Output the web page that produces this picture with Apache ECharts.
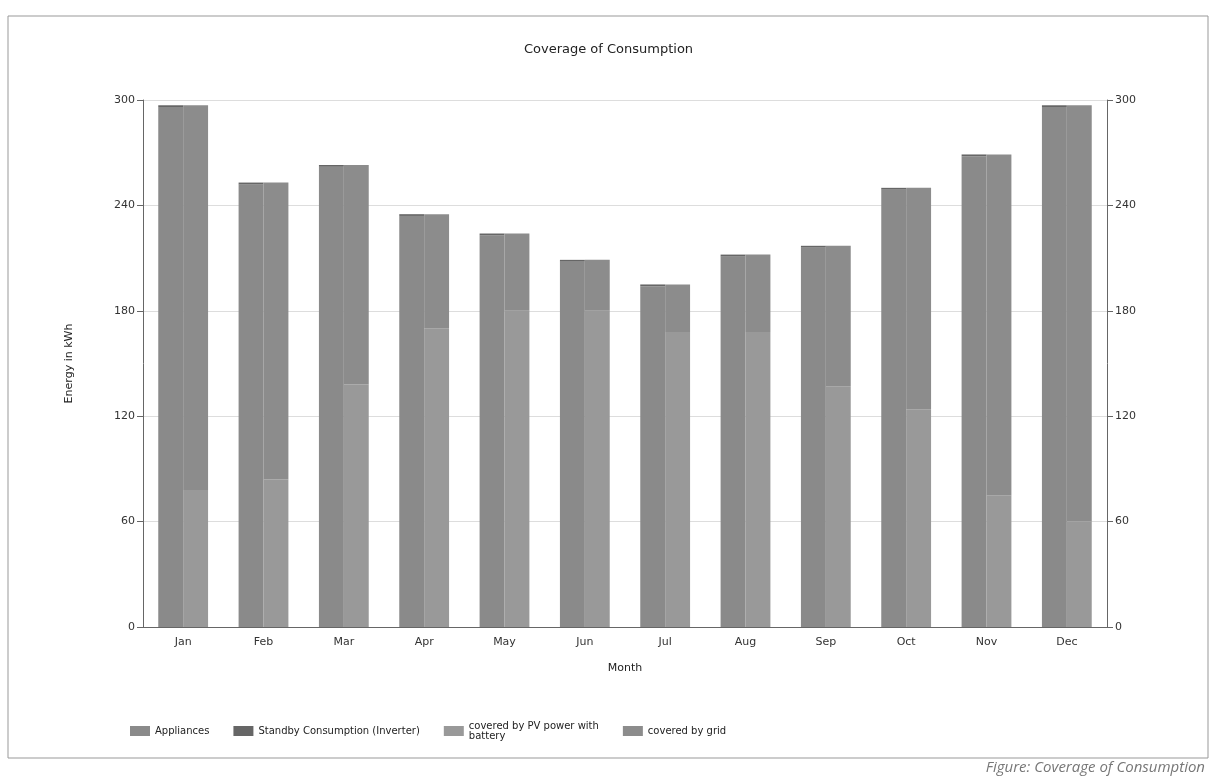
<!DOCTYPE html>
<html><head><meta charset="utf-8">
<script src="https://cdn.jsdelivr.net/npm/echarts@6/dist/echarts.min.js"></script>
<style>html,body{margin:0;padding:0;background:#fff}#c{width:1217px;height:777px}</style>
</head><body><div id="c"></div>
<script>
const months = ['Jan','Feb','Mar','Apr','May','Jun','Jul','Aug','Sep','Oct','Nov','Dec'];
const appliances = [296, 252, 262, 234, 223, 208, 194, 211, 216, 249, 268, 296];
const standby = [1, 1, 1, 1, 1, 1, 1, 1, 1, 1, 1, 1];
const pvBattery = [78, 84, 138, 170, 180, 180, 168, 168, 137, 124, 75, 60];
const grid = [219, 169, 125, 65, 44, 29, 27, 44, 80, 126, 194, 237];
const yTicks = [0, 60, 120, 180, 240, 300];

const chart = echarts.init(document.getElementById('c'));
const axisCommon = {
  type: 'value', min: 0, max: 300, interval: 60,
  axisLine: {show: true, lineStyle: {color: '#666'}},
  axisTick: {show: true, length: 6, lineStyle: {color: '#666'}},
  axisLabel: {color: '#333', fontFamily: 'DejaVu Sans', fontSize: 11}
};
chart.setOption({
  animation: false,
  title: {text: 'Coverage of Consumption', left: 'center', top: 38,
    textStyle: {fontFamily: 'DejaVu Sans', fontSize: 13, fontWeight: 'normal', color: '#222'}},
  grid: {left: 143, right: 110, top: 100, bottom: 150},
  legend: {left: 125, top: 716, icon: 'rect', itemWidth: 20, itemHeight: 10, itemGap: 24,
    textStyle: {fontFamily: 'DejaVu Sans', fontSize: 10, color: '#222'},
    data: ['Appliances', 'Standby Consumption (Inverter)', 'covered by PV power with\nbattery', 'covered by grid']},
  xAxis: {type: 'category', data: months, name: 'Month', nameLocation: 'middle', nameGap: 36,
    nameTextStyle: {fontFamily: 'DejaVu Sans', fontSize: 11, color: '#222'},
    axisLine: {lineStyle: {color: '#666'}}, axisTick: {alignWithLabel: true, length: 5, lineStyle: {color: '#666'}},
    axisLabel: {color: '#333', fontFamily: 'DejaVu Sans', fontSize: 11, margin: 10}},
  yAxis: [
    Object.assign({}, axisCommon, {name: 'Energy in kWh', nameLocation: 'middle', nameGap: 68,
      nameTextStyle: {fontFamily: 'DejaVu Sans', fontSize: 11, color: '#222'},
      splitLine: {show: true, lineStyle: {color: '#ddd'}}}),
    Object.assign({}, axisCommon, {position: 'right', splitLine: {show: false}})
  ],
  series: [
    {name: 'Appliances', type: 'bar', stack: 'cons', data: appliances, barGap: '0%', barCategoryGap: '38%',
      itemStyle: {color: '#8a8a8a'}},
    {name: 'Standby Consumption (Inverter)', type: 'bar', stack: 'cons', data: standby,
      itemStyle: {color: '#666666'}},
    {name: 'covered by PV power with\nbattery', type: 'bar', stack: 'cov', data: pvBattery,
      itemStyle: {color: '#999999'}},
    {name: 'covered by grid', type: 'bar', stack: 'cov', data: grid,
      itemStyle: {color: '#8c8c8c'}}
  ],
  graphic: [
    {type: 'rect', shape: {x: 8, y: 16, width: 1200, height: 742}, style: {fill: 'none', stroke: '#999', lineWidth: 1}},
    {type: 'text', right: 12, top: 760, style: {text: 'Figure: Coverage of Consumption', fill: '#777',
      font: 'italic 15px "Open Sans"'}}
  ]
});
</script></body></html>
